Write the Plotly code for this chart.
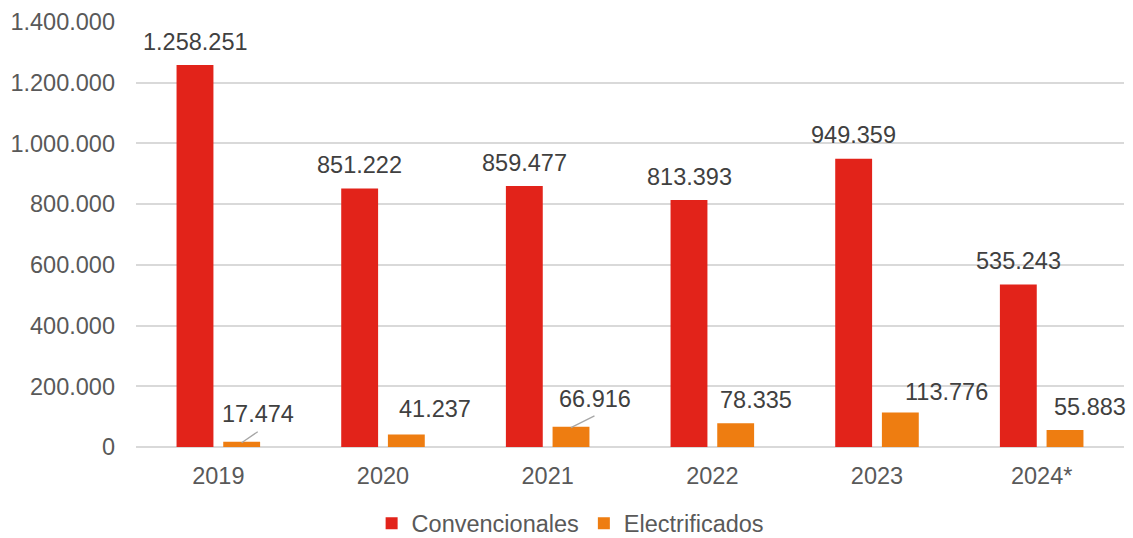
import plotly.graph_objects as go

years = ["2019", "2020", "2021", "2022", "2023", "2024*"]
convencionales = [1258251, 851222, 859477, 813393, 949359, 535243]
electrificados = [17474, 41237, 66916, 78335, 113776, 55883]

RED = "#E2231A"
ORANGE = "#EE7D11"
FONT = "Liberation Sans, Arial, sans-serif"
FS = 23.5

# label placement tweaks (pixels) relative to each bar top
BAR_OFF = 23.3
red_dx = [0, 0, 0, 0, 0, 0]
red_dy = [23.5, 23.5, 23.5, 23.5, 23.5, 23.5]
org_dx = [16.5, 28.7, 24, 20.7, 46.3, 24.7]
org_dy = [27.7, 25.5, 27.7, 23, 20, 23.3]
leaders = {0: (17.6, -12), 2: (25, -12.6)}


def fmt(v):
    return f"{v:,}".replace(",", ".")


fig = go.Figure()
fig.add_trace(go.Bar(name="Convencionales", x=years, y=convencionales,
                     marker=dict(color=RED, line=dict(width=0))))
fig.add_trace(go.Bar(name="Electrificados", x=years, y=electrificados,
                     marker=dict(color=ORANGE, line=dict(width=0))))

annotations = []
for i, yr in enumerate(years):
    # on a category axis, the numeric position i is the i-th category
    annotations.append(dict(x=i, y=convencionales[i], xref="x", yref="y",
                            text=fmt(convencionales[i]), showarrow=False,
                            xshift=-BAR_OFF + red_dx[i], yshift=red_dy[i],
                            yanchor="middle", xanchor="center",
                            font=dict(family=FONT, size=FS, color="#404040")))
    annotations.append(dict(x=i, y=electrificados[i], xref="x", yref="y",
                            text=fmt(electrificados[i]), showarrow=False,
                            xshift=BAR_OFF + org_dx[i], yshift=org_dy[i],
                            yanchor="middle", xanchor="center",
                            font=dict(family=FONT, size=FS, color="#404040")))
    if i in leaders:
        ax, ay = leaders[i]
        annotations.append(dict(x=i, y=electrificados[i], xref="x", yref="y",
                                text="", showarrow=True, arrowhead=0,
                                arrowwidth=1.3, arrowcolor="#A6A6A6",
                                ax=ax, ay=ay, xshift=BAR_OFF, yshift=-1,
                                standoff=0, startstandoff=0,
                                font=dict(size=1)))

fig.update_layout(
    width=1133, height=538,
    margin=dict(l=136, r=9, t=22, b=91),
    paper_bgcolor="white", plot_bgcolor="white",
    barmode="group", bargap=0.433, bargroupgap=0.21,
    separators=",.",
    font=dict(family=FONT, size=FS, color="#595959"),
    showlegend=True,
    legend=dict(orientation="h", xref="container", yref="container",
                x=0.328, xanchor="left", y=0.027, yanchor="middle",
                font=dict(family=FONT, size=FS, color="#595959"),
                itemsizing="constant", traceorder="normal"),
    annotations=annotations,
)
fig.update_yaxes(range=[0, 1400000], dtick=200000, tickformat=",d",
                 showgrid=True, gridcolor="#D9D9D9", gridwidth=1.5,
                 zeroline=True, zerolinecolor="#D9D9D9", zerolinewidth=1.5,
                 showline=False, ticks="", ticklabelstandoff=20,
                 tickfont=dict(family=FONT, size=FS, color="#595959"))
fig.update_xaxes(type="category", categoryorder="array", categoryarray=years,
                 range=[-0.5, len(years) - 0.5],
                 showgrid=False, showline=False, ticks="",
                 ticklabelstandoff=12,
                 tickfont=dict(family=FONT, size=FS, color="#595959"))

fig.write_html("out.html")
